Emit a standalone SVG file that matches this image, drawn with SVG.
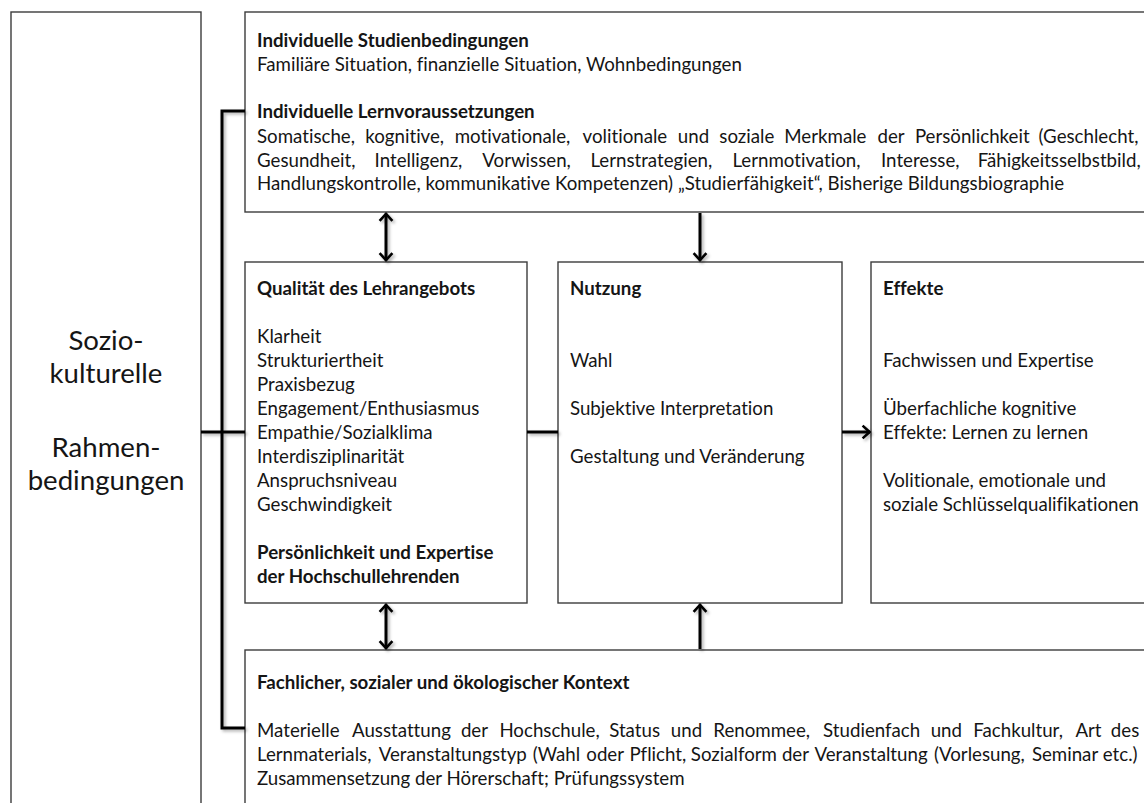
<svg xmlns="http://www.w3.org/2000/svg" width="1144" height="803" viewBox="0 0 1144 803">
<defs>
<style>
.box{fill:#fff;stroke:#3c3c3c;stroke-width:1.4}
.t{font-family:Lato,"Open Sans","Liberation Sans",sans-serif;font-size:18.7px;fill:#151515;font-variant-ligatures:none}
.b{font-weight:bold}
.big{font-size:27.6px;text-anchor:middle}
.c{fill:none;stroke:#000;stroke-width:3;stroke-linejoin:miter}
</style>
<filter id="sh" x="-50%" y="-50%" width="200%" height="200%">
<feDropShadow dx="2" dy="2" stdDeviation="1.6" flood-color="#000" flood-opacity="0.3"/>
</filter>
<marker id="ah" viewBox="0 0 10 16" refX="8.6" refY="8" markerWidth="10" markerHeight="16" markerUnits="userSpaceOnUse" orient="auto-start-reverse">
<path d="M1.2,1.6 L8.2,8 L1.2,14.4" fill="none" stroke="#000" stroke-width="2.6"/>
</marker>
</defs>
<rect width="1144" height="803" fill="#fff"/>

<g id="n-sozio">
<rect class="box" x="11" y="12" width="190" height="820"/>
<text class="t big" x="106" y="350">Sozio-</text>
<text class="t big" x="106" y="383">kulturelle</text>
<text class="t big" x="106" y="457">Rahmen-</text>
<text class="t big" x="106" y="490">bedingungen</text>
</g>

<g id="n-individuell">
<rect class="box" x="245" y="12" width="920" height="200"/>
<text class="t b" x="257" y="47">Individuelle Studienbedingungen</text>
<text class="t" x="257" y="71">Familiäre Situation, finanzielle Situation, Wohnbedingungen</text>
<text class="t b" x="257" y="118">Individuelle Lernvoraussetzungen</text>
<text class="t" y="142.5"><tspan x="257">Somatische,</tspan><tspan x="365.3">kognitive,</tspan><tspan x="454.7">motivationale,</tspan><tspan x="582.6">volitionale</tspan><tspan x="677.8">und</tspan><tspan x="719.3">soziale</tspan><tspan x="784.3">Merkmale</tspan><tspan x="877.5">der</tspan><tspan x="914.9">Persönlichkeit</tspan><tspan x="1038.5">(Geschlecht,</tspan></text>
<text class="t" y="166.5"><tspan x="257">Gesundheit,</tspan><tspan x="374.6">Intelligenz,</tspan><tspan x="482.3">Vorwissen,</tspan><tspan x="590.4">Lernstrategien,</tspan><tspan x="732.4">Lernmotivation,</tspan><tspan x="881">Interesse,</tspan><tspan x="977.7">Fähigkeitsselbstbild,</tspan></text>
<text class="t" x="257" y="190">Handlungskontrolle, kommunikative Kompetenzen) „Studierfähigkeit“, Bisherige Bildungsbiographie</text>
</g>

<g id="n-qualitaet">
<rect class="box" x="245" y="262" width="282" height="341"/>
<text class="t b" x="257" y="295">Qualität des Lehrangebots</text>
<text class="t" x="257" y="342.5">Klarheit</text>
<text class="t" x="257" y="366.5">Strukturiertheit</text>
<text class="t" x="257" y="390.5">Praxisbezug</text>
<text class="t" x="257" y="414.5">Engagement/Enthusiasmus</text>
<text class="t" x="257" y="438.5">Empathie/Sozialklima</text>
<text class="t" x="257" y="462.5">Interdisziplinarität</text>
<text class="t" x="257" y="486.5">Anspruchsniveau</text>
<text class="t" x="257" y="510.5">Geschwindigkeit</text>
<text class="t b" x="257" y="559">Persönlichkeit und Expertise</text>
<text class="t b" x="257" y="583">der Hochschullehrenden</text>
</g>

<g id="n-nutzung">
<rect class="box" x="558" y="262" width="284" height="341"/>
<text class="t b" x="570" y="295">Nutzung</text>
<text class="t" x="570" y="366.5">Wahl</text>
<text class="t" x="570" y="414.5">Subjektive Interpretation</text>
<text class="t" x="570" y="462.5">Gestaltung und Veränderung</text>
</g>

<g id="n-effekte">
<rect class="box" x="871" y="262" width="290" height="341"/>
<text class="t b" x="883" y="295">Effekte</text>
<text class="t" x="883" y="366.5">Fachwissen und Expertise</text>
<text class="t" x="883" y="414.5">Überfachliche kognitive</text>
<text class="t" x="883" y="438.5">Effekte: Lernen zu lernen</text>
<text class="t" x="883" y="486.5">Volitionale, emotionale und</text>
<text class="t" x="883" y="510.5">soziale Schlüsselqualifikationen</text>
</g>

<g id="n-kontext">
<rect class="box" x="245" y="650" width="920" height="180"/>
<text class="t b" x="257" y="689">Fachlicher, sozialer und ökologischer Kontext</text>
<text class="t" y="737"><tspan x="257">Materielle</tspan><tspan x="352">Ausstattung</tspan><tspan x="460.9">der</tspan><tspan x="499.4">Hochschule,</tspan><tspan x="609.2">Status</tspan><tspan x="670.8">und</tspan><tspan x="713.3">Renommee,</tspan><tspan x="823.1">Studienfach</tspan><tspan x="930.7">und</tspan><tspan x="973.3">Fachkultur,</tspan><tspan x="1075.4">Art</tspan><tspan x="1110.8">des</tspan></text>
<text class="t" y="761"><tspan x="257">Lernmaterials,</tspan><tspan x="378.7">Veranstaltungstyp</tspan><tspan x="532.7">(Wahl</tspan><tspan x="586.3">oder</tspan><tspan x="629.4">Pflicht,</tspan><tspan x="690.8">Sozialform</tspan><tspan x="781.9">der</tspan><tspan x="814.4">Veranstaltung</tspan><tspan x="933.9">(Vorlesung,</tspan><tspan x="1031.9">Seminar</tspan><tspan x="1102.8">etc.)</tspan></text>
<text class="t" x="257" y="785">Zusammensetzung der Hörerschaft; Prüfungssystem</text>
</g>

<g id="connectors" filter="url(#sh)">
<path class="c" d="M245,111 H222 V728 H245"/>
<path class="c" d="M201,432 H245"/>
<path class="c" d="M527,432 H558"/>
<path class="c" d="M842,432 H870" marker-end="url(#ah)"/>
<path class="c" d="M386,213.5 V260.5" marker-start="url(#ah)" marker-end="url(#ah)"/>
<path class="c" d="M700,213 V260.5" marker-end="url(#ah)"/>
<path class="c" d="M386,604.5 V648.5" marker-start="url(#ah)" marker-end="url(#ah)"/>
<path class="c" d="M700,649 V604.5" marker-end="url(#ah)"/>
</g>
</svg>
